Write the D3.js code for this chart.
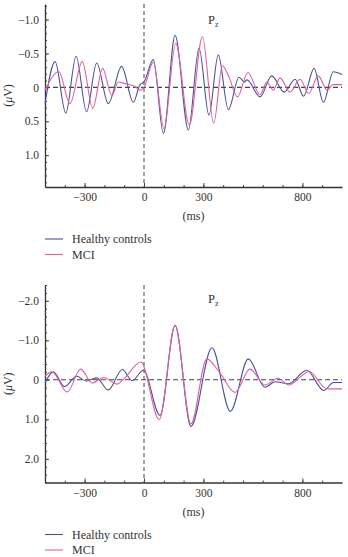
<!DOCTYPE html>
<html>
<head>
<meta charset="utf-8">
<script src="https://cdn.jsdelivr.net/npm/d3@7"></script>
<style>
  body { margin: 0; background: #fff; }
  text { font-family: 'Liberation Serif', 'DejaVu Serif', serif; fill: #333; }
</style>
</head>
<body>
<div id="chart"></div>
<script>
// [ms, µV] (negative up)
let topHealthy = [
  [-500, 0.24], [-449, -0.38], [-395, 0.38], [-343, -0.46], [-290, 0.36],
  [-239, -0.36], [-180, 0.24], [-113, -0.31], [-54, 0.22], [-20, -0.04],
  [0, -0.08], [47, -0.41], [98, 0.68], [157, -0.77], [224, 0.63],
  [278, -0.58], [328, 0.41], [375, -0.48], [426, 0.33], [480, -0.15],
  [508, -0.08], [520, -0.11], [586, 0.14], [645, -0.17], [708, 0.07],
  [763, -0.12], [806, 0.13], [859, -0.28], [906, 0.22], [956, -0.23],
  [1000, -0.19]
]
let topMCI = [
  [-500, 0.04], [-430, -0.23], [-374, 0.24], [-312, -0.38], [-259, 0.31],
  [-209, -0.28], [-163, 0.12], [-129, -0.08], [-90, -0.05], [-50, -0.02],
  [-20, 0.04], [0, 0.0], [47, -0.37], [101, 0.61], [160, -0.65],
  [229, 0.56], [295, -0.75], [352, 0.53], [396, -0.32], [428, -0.16],
  [472, 0.14], [525, -0.22], [586, 0.11], [620, -0.08], [653, 0.04],
  [687, -0.14], [737, 0.07], [788, -0.12], [832, 0.09], [880, -0.17],
  [925, 0.04], [956, -0.04], [1000, -0.04]
]
let botHealthy = [
  [-500, 0.08], [-458, -0.20], [-401, 0.17], [-340, -0.09], [-292, 0.03],
  [-240, -0.05], [-180, 0.26], [-110, -0.26], [-60, 0.02], [-3, -0.24],
  [81, 0.90], [157, -1.38], [237, 1.18], [343, -0.81], [436, 0.80],
  [527, -0.53], [611, 0.19], [662, 0.05], [729, 0.10], [822, -0.24],
  [908, 0.27], [957, 0.07], [1000, 0.07]
]
let botMCI = [
  [-500, -0.09], [-464, -0.20], [-388, 0.31], [-320, -0.27], [-262, 0.08],
  [-204, -0.06], [-135, 0.11], [-106, 0.0], [-16, -0.45], [77, 1.01],
  [157, -1.38], [237, 1.12], [317, -0.53], [384, -0.17], [460, 0.32],
  [535, -0.27], [611, 0.13], [678, -0.04], [732, 0.13], [834, -0.21],
  [924, 0.23], [1000, 0.23]
]

let xTicks = [-300, 0, 300, 800]
let xMinor = d3.range(-400, 1000, 100)
let topYTicks = [-1.0, -0.5, 0, 0.5, 1.0]
let botYTicks = [-2.0, -1.0, 0, 1.0, 2.0]
let seriesNames = ['Healthy controls', 'MCI']
let colors = ['#4a509c', '#e0609c']

let width = 348
let height = 557

let svg = d3.select('#chart')
  .append('svg')
  .attr('width', width)
  .attr('height', height)

let x = d3.scaleLinear().domain([-500, 1000]).range([45, 342])

let fmt = d => d === 0 ? '0' : d3.format('.1f')(d).replace('-', '\u2212')
let fmtX = d => String(d).replace('-', '\u2212')

function panel(cfg) {
  let y = d3.scaleLinear().domain(cfg.domain).range(cfg.range)
  let g = svg.append('g')
  let top = cfg.range[0]
  let bottom = cfg.range[1]

  // minor ticks
  g.append('g')
    .attr('transform', `translate(45,0)`)
    .call(d3.axisLeft(y).tickValues(cfg.minor).tickSize(-2).tickFormat(''))
    .call(a => a.select('.domain').remove())
    .selectAll('line').attr('stroke', '#555')

  g.append('g')
    .attr('transform', `translate(0,${bottom})`)
    .call(d3.axisBottom(x).tickValues(xMinor).tickSize(-2).tickFormat(''))
    .call(a => a.select('.domain').remove())
    .selectAll('line').attr('stroke', '#555')

  // major axes
  let yAxis = g.append('g')
    .attr('transform', `translate(45,0)`)
    .call(d3.axisLeft(y).tickValues(cfg.ticks).tickSizeInner(-4).tickSizeOuter(0).tickPadding(6).tickFormat(fmt))
  yAxis.selectAll('text').attr('font-size', 11.5)

  let xAxis = g.append('g')
    .attr('transform', `translate(0,${bottom})`)
    .call(d3.axisBottom(x).tickValues(xTicks).tickSizeInner(-4).tickSizeOuter(0).tickPadding(6).tickFormat(fmtX))
  xAxis.selectAll('text').attr('font-size', 11.5)

  g.selectAll('.domain').attr('stroke', '#333').attr('stroke-width', 1.3)
  g.selectAll('.tick line').attr('stroke', '#444')

  // dashed reference lines
  g.append('line')
    .attr('x1', x(0)).attr('x2', x(0))
    .attr('y1', top).attr('y2', bottom)
    .attr('stroke', '#444')
    .attr('stroke-dasharray', '4,3')

  g.append('line')
    .attr('x1', 45).attr('x2', 342)
    .attr('y1', y(0)).attr('y2', y(0))
    .attr('stroke', '#444')
    .attr('stroke-width', 1.1)
    .attr('stroke-dasharray', '5,3')

  let line = d3.line()
    .x(d => x(d[0]))
    .y(d => y(d[1]))
    .curve(d3.curveMonotoneX)

  cfg.series.forEach((s, i) => {
    g.append('path')
      .datum(s)
      .attr('d', line)
      .attr('fill', 'none')
      .attr('stroke', colors[i])
      .attr('stroke-width', 1.1)
  })

  // axis titles
  let yl = g.append('text')
    .attr('transform', `translate(12,${(top + bottom) / 2}) rotate(-90)`)
    .attr('text-anchor', 'middle')
    .attr('font-size', 12)
  yl.append('tspan').text('(')
  yl.append('tspan').attr('font-style', 'italic').text('\u03bc')
  yl.append('tspan').text('V)')

  g.append('text')
    .attr('x', (45 + 342) / 2)
    .attr('y', bottom + 33)
    .attr('text-anchor', 'middle')
    .attr('font-size', 12)
    .text('(ms)')

  let pz = g.append('text')
    .attr('x', 208)
    .attr('y', cfg.pzY)
    .attr('font-size', 12.5)
  pz.append('tspan').text('P')
  pz.append('tspan').attr('font-size', 8).attr('dy', 3).text('z')

  // legend
  let leg = g.selectAll('.legend')
    .data(seriesNames)
    .enter()
    .append('g')
    .attr('transform', (d, i) => `translate(45,${bottom + 52 + i * 15.5})`)
  leg.append('line')
    .attr('x1', 0).attr('x2', 18)
    .attr('stroke', (d, i) => colors[i])
    .attr('stroke-width', 1.1)
  leg.append('text')
    .attr('x', 27)
    .attr('dy', '0.35em')
    .attr('font-size', 12)
    .text(d => d)
}

panel({
  domain: [-1.23, 1.47],
  range: [4, 187],
  ticks: topYTicks,
  minor: d3.range(-12, 15).map(d => d / 10),
  series: [topHealthy, topMCI],
  pzY: 24
})

panel({
  domain: [-2.4, 2.6],
  range: [285, 482.5],
  ticks: botYTicks,
  minor: d3.range(-12, 14).map(d => d / 5),
  series: [botHealthy, botMCI],
  pzY: 303
})
</script>
</body>
</html>
